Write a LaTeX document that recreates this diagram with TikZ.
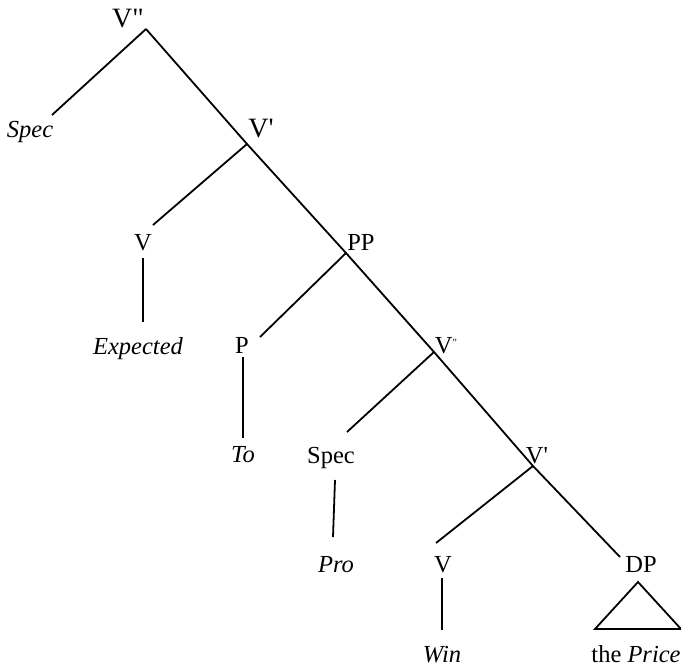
\documentclass[tikz,border=0pt]{standalone}
\usepackage{fontspec}
\setmainfont{Liberation Serif}[Ligatures=TeXOff]
\begin{document}
\begin{tikzpicture}[x=1pt,y=-1pt,
  lbl/.style={anchor=base, inner sep=0pt, font=\fontsize{24.5}{28}\selectfont},
  big/.style={anchor=base, inner sep=0pt, font=\fontsize{28}{32}\selectfont},
  edge/.style={draw=black, line width=1.8pt}]
\useasboundingbox (0,0) rectangle (681,667);
% labels
\node[big] (vpp) at (128,27) {V"};
\node[lbl] (spec1) at (30,137) {\itshape Spec};
\node[big] (vp1) at (261,137) {V'};
\node[lbl] (v1) at (143,250) {V};
\node[lbl] (expected) at (138,354) {\itshape Expected};
\node[lbl] (pp) at (361,250) {PP};
\node[lbl] (p) at (242,353) {P};
\node[lbl] (to) at (243,462) {\itshape To};
\node[lbl] (vpp2) at (446,353) {V\raisebox{7pt}{\fontsize{11}{11}\selectfont"}};
\node[lbl] (spec2) at (331,463) {Spec};
\node[lbl] (pro) at (336,572) {\itshape Pro};
\node[lbl] (vp2) at (537,463) {V'};
\node[lbl] (v2) at (443,572) {V};
\node[lbl] (dp) at (641,572) {DP};
\node[lbl] (win) at (442,662) {\itshape Win};
\node[lbl] (price) at (636,662) {the \itshape Price};
% junctions and ends
\coordinate (j0) at (146,29);
\coordinate (e1) at (52,115);
\coordinate (j1) at (247,144);
\coordinate (e2) at (153,225);
\coordinate (j2) at (346,253);
\coordinate (e3) at (260,337);
\coordinate (j3) at (434,352);
\coordinate (e4) at (347,432);
\coordinate (j4) at (533,466);
\coordinate (e5) at (436,543);
\coordinate (e6) at (620,557);
\coordinate (a1) at (143,258); \coordinate (b1) at (143,322);
\coordinate (a2) at (243,357); \coordinate (b2) at (243,438);
\coordinate (a3) at (335,480); \coordinate (b3) at (333,537);
\coordinate (a4) at (442,578); \coordinate (b4) at (442,630);
\coordinate (t1) at (638,582); \coordinate (t2) at (595,629); \coordinate (t3) at (681,629);
% edges
\draw[edge] (j0) -- (e1);
\draw[edge] (j0) -- (j1) -- (j2) -- (j3) -- (j4) -- (e6);
\draw[edge] (j1) -- (e2);
\draw[edge] (j2) -- (e3);
\draw[edge] (j3) -- (e4);
\draw[edge] (j4) -- (e5);
\draw[edge] (a1) -- (b1);
\draw[edge] (a2) -- (b2);
\draw[edge] (a3) -- (b3);
\draw[edge] (a4) -- (b4);
\draw[edge, line join=miter] (t1) -- (t2) -- (t3) -- cycle;
\end{tikzpicture}
\end{document}
